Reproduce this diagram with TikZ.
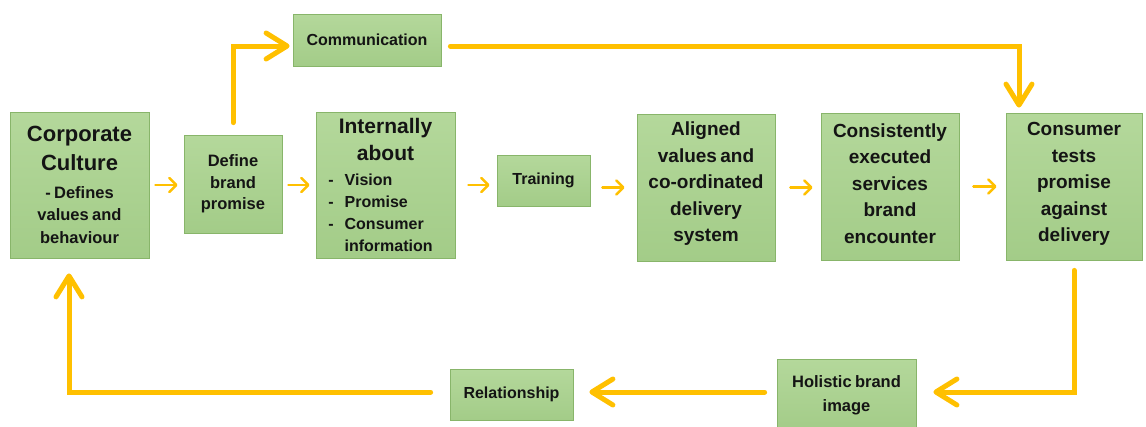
\documentclass[tikz,border=0pt]{standalone}
\usepackage{fontspec}
\setmainfont{Liberation Sans}
\usetikzlibrary{arrows.meta,calc}
\definecolor{boxtop}{RGB}{180,216,155}
\definecolor{boxbot}{RGB}{163,204,136}
\definecolor{boxline}{RGB}{136,181,106}
\definecolor{gold}{RGB}{255,192,0}
\definecolor{ink}{RGB}{20,20,20}
\newcommand{\fsz}[2]{\fontsize{#1}{#2}\selectfont}
\newcommand{\lift}[1]{\par\vskip#1\hrule height0pt width0pt}
\tikzset{
  box/.style={draw=boxline, line width=0.8pt, top color=boxtop, bottom color=boxbot,
    inner sep=0pt, align=center, text=ink, font=\bfseries},
  thinarrow/.style={draw=gold, line width=2.5pt, line cap=round,
    -{Straight Barb[length=7pt,width=14pt,round]}},
  thickarrow/.style={draw=gold, line width=5pt, line cap=round,
    -{Straight Barb[length=21pt,width=26pt,round]}},
}
\begin{document}
\begin{tikzpicture}[x=1pt,y=-1pt]
\fill[white] (0,0) rectangle (1146,426);
\useasboundingbox (0,0) rectangle (1146,426);

% boxes
\node[box, minimum width=139pt, minimum height=146pt, text width=135pt] (cc) at (79.5,185)
  {{\fsz{22}{29}Corporate\\Culture\par}\vspace{5pt}{\fsz{16.5}{22.5}- Defines\\values and\\behaviour\par}};
\node[box, minimum width=98pt, minimum height=98pt, text width=94pt] (def) at (233,184)
  {\fsz{16.5}{21.7}Define\\brand\\promise\par};
\node[box, minimum width=139pt, minimum height=146pt, text width=135pt] (int) at (385.5,185)
  {{\fsz{21}{27}Internally\\about\par}\vspace{3pt}{\fsz{16}{22}\begin{tabular}[t]{@{}l@{\hspace{11pt}}l@{}}-&Vision\\-&Promise\\-&Consumer\\&information\end{tabular}\hspace*{10pt}\par}\lift{-6pt}};
\node[box, minimum width=93pt, minimum height=51pt] (trn) at (543.5,180.5)
  {\fsz{16}{20}Training};
\node[box, minimum width=138pt, minimum height=147pt, text width=134pt] (al) at (706,187.5)
  {\fsz{19}{26.5}Aligned\\values and\\co-ordinated\\delivery\\system\lift{7pt}};
\node[box, minimum width=138pt, minimum height=147pt, text width=134pt] (con) at (890,186.5)
  {\fsz{19}{26.5}Consistently\\executed\\services\\brand\\encounter\lift{6pt}};
\node[box, minimum width=136pt, minimum height=147pt, text width=132pt] (ct) at (1074,186.5)
  {\fsz{19}{26.5}Consumer\\tests\\promise\\against\\delivery\lift{5pt}};
\node[box, minimum width=148pt, minimum height=52pt] (comm) at (367,40)
  {\fsz{16}{20}Communication};
\node[box, minimum width=123pt, minimum height=51pt] (rel) at (511.5,394.5)
  {\fsz{16}{20}Relationship};
\node[box, minimum width=139pt, minimum height=72pt, text width=135pt] (hol) at (846.5,395)
  {\fsz{16.5}{24}Holistic brand\\image\par};

% thin arrows along the main row
\draw[thinarrow, shorten <=6pt, shorten >=6pt] (cc.east) -- (cc.east -| def.west);
\draw[thinarrow, shorten <=6pt, shorten >=6pt] (int.west -| def.east) -- (int.west);
\draw[thinarrow, shorten <=13pt, shorten >=7pt] (int.east) -- (int.east -| trn.west);
\draw[thinarrow, shorten <=12pt, shorten >=12pt] (al.west -| trn.east) -- (al.west);
\draw[thinarrow, shorten <=15pt, shorten >=8pt] (al.east) -- (al.east -| con.west);
\draw[thinarrow, shorten <=14pt, shorten >=9pt] (con.east) -- (con.east -| ct.west);

% thick loop arrows
\draw[thickarrow, shorten <=12pt, shorten >=3pt] (def.north) |- ([yshift=-6pt]comm.west);
\draw[thickarrow, shorten >=5pt] ([xshift=9pt,yshift=-6pt]comm.east) -| ([xshift=-55pt]ct.north);
\draw[thickarrow, shorten <=10pt, shorten >=17pt] (ct.south) |- ([yshift=3pt]hol.east);
\draw[thickarrow, shorten <=12pt, shorten >=16pt] ([yshift=3pt]hol.west) -- ([yshift=3pt]hol.west -| rel.east);
\draw[thickarrow, shorten <=19pt, shorten >=15pt] ([yshift=2.5pt]rel.west) -| ([xshift=-10.5pt]cc.south);
\end{tikzpicture}
\end{document}
